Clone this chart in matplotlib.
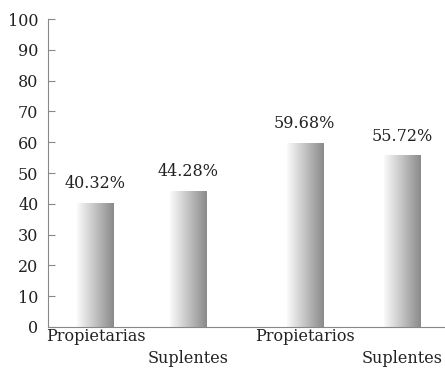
import numpy as np
import matplotlib.pyplot as plt

# Data
labels = ["Propietarias", "\nSuplentes", "Propietarios", "\nSuplentes"]
values = [40.32, 44.28, 59.68, 55.72]
positions = [1.0, 2.0, 3.25, 4.3]
yticks = list(range(0, 101, 10))

plt.rcParams['font.family'] = ['DejaVu Serif']

fig = plt.figure(figsize=(4.45, 3.71), dpi=100)
ax = fig.add_axes([0.108, 0.1186, 0.892, 0.830])

bars = ax.bar(positions, values, width=0.39, color='none', edgecolor='none')

# horizontal gradient fill: light on left, dark gray on right
grad = np.linspace(0.98, 0.54, 256).reshape(1, -1)
for b in bars:
    x0, w, h = b.get_x(), b.get_width(), b.get_height()
    im = ax.imshow(grad, cmap='gray', vmin=0, vmax=1, aspect='auto',
                   extent=[x0, x0 + w, 0, h], zorder=2)
    im.set_clip_path(b)

for x, v in zip(positions, values):
    ax.text(x, v + 3.5, f"{v:.2f}%", ha='center', va='bottom', fontsize=11.5,
            color='#222222')

ax.set_xlim(0.49, 4.76)
ax.set_ylim(0, 100)
ax.set_yticks(yticks)
ax.set_xticks(positions)
ax.set_xticklabels(labels, fontsize=11.5, linespacing=1.35, color='#222222')
ax.tick_params(axis='x', length=0, pad=1)
ax.tick_params(axis='y', direction='in', length=5, color='#888888',
               labelsize=11.5, pad=7, labelcolor='#222222')

for s in ['top', 'right']:
    ax.spines[s].set_visible(False)
for s in ['left', 'bottom']:
    ax.spines[s].set_color('#888888')

fig.savefig('out.png', dpi=100)
